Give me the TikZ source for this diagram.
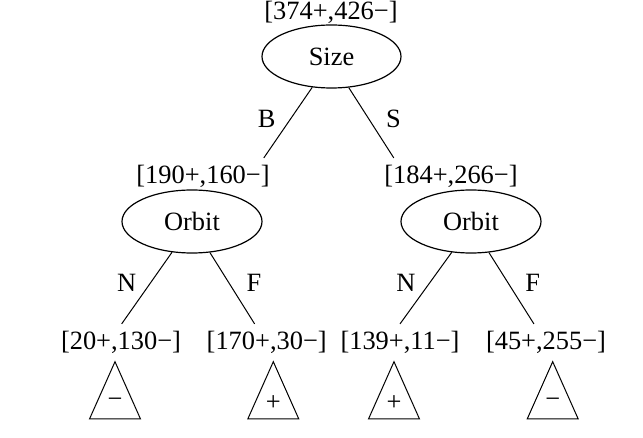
\documentclass[tikz,border=0pt]{standalone}
\usepackage{fontspec}
\setmainfont{Liberation Serif}
\usetikzlibrary{shapes.geometric}
\tikzset{
  test/.style={draw,ellipse,minimum width=69.5pt,minimum height=31.5pt,inner sep=0pt,line width=0.6pt},
  count/.style={inner sep=3.5pt},
  branch/.style={line width=0.5pt},
}
\begin{document}
\begin{tikzpicture}[x=0.5pt,y=-0.5pt,font=\fontsize{13.2}{15}\selectfont]
\useasboundingbox (0,0) rectangle (643,438);
% root
\node[count] (c0) at (331,12) {[374+,426−]};
\node[test] (size) at (331.5,56.5) {Size};
% second level
\node[count] (cB) at (203,176.5) {[190+,160−]};
\node[count] (cS) at (451,176.5) {[184+,266−]};
\node[test,minimum width=70pt] (orbL) at (192,221.5) {Orbit};
\node[test,minimum width=70pt] (orbR) at (471,221.5) {Orbit};
\draw[branch] (size.238) -- (cB.17.5);
\draw[branch] (size.299.5) -- (cS.162);
\node (eB) at (266.7,118.5) {B};
\node (eS) at (393.5,118.5) {S};
% leaves
\node[count] (cBN) at (121,342.5) {[20+,130−]};
\node[count] (cBF) at (266.7,342.5) {[170+,30−]};
\node[count] (cSN) at (400,342.5) {[139+,11−]};
\node[count] (cSF) at (546,342.5) {[45+,255−]};
\draw[branch] (orbL.237) -- (cBN.88);
\draw[branch] (orbL.300) -- (cBF.123);
\draw[branch] (orbR.238) -- (cSN.90);
\draw[branch] (orbR.300) -- (cSF.123);
\node (eBN) at (126.7,282.7) {N};
\node (eBF) at (254,282.7) {F};
\node (eSN) at (406,282.7) {N};
\node (eSF) at (532.7,282.7) {F};
% class triangles
\foreach \x/\s [count=\i] in {115/−,273.3/+,394/+,552.7/−}{
  \draw[branch] (\x,361.7) -- (\x+25.5,419) -- (\x-25.5,419) -- cycle;
  \node (cls\i) at (\x,403) {\s};
}
\end{tikzpicture}
\end{document}
